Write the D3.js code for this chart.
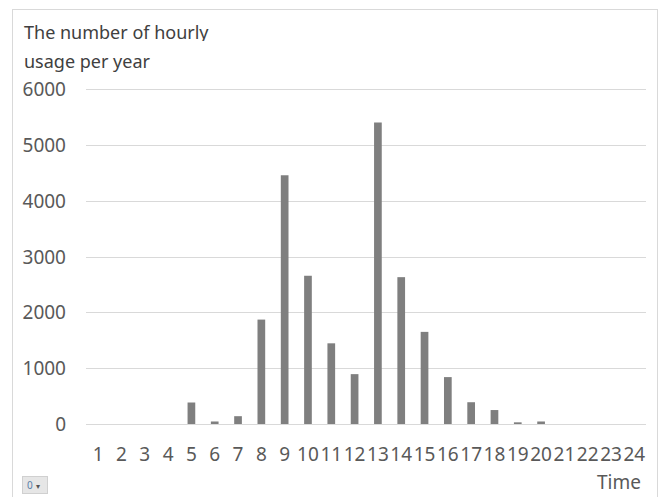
<!DOCTYPE html>
<html>
<head>
<meta charset="utf-8">
<script src="https://cdn.jsdelivr.net/npm/d3@7/dist/d3.min.js"></script>
<style>
  html, body { margin: 0; padding: 0; background: #fff; }
  svg { display: block; }
</style>
</head>
<body>
<script>
const hours = ["1","2","3","4","5","6","7","8","9","10","11","12","13","14","15","16","17","18","19","20","21","22","23","24"];
const usage = [0, 0, 0, 0, 385, 45, 140, 1870, 4455, 2655, 1445, 893, 5400, 2630, 1650, 840, 390, 250, 30, 45, 0, 0, 0, 0];
const yTicks = [0, 1000, 2000, 3000, 4000, 5000, 6000];
const titleLines = ["The number of hourly", "usage per year"];
const xTitle = "Time";

const W = 659, H = 497;
const font = "'Noto Sans', 'Noto Sans CJK JP', sans-serif";
const svg = d3.select("body").append("svg").attr("width", W).attr("height", H);

// chart area border
svg.append("rect").attr("x", 12.5).attr("y", 9.5).attr("width", 645).attr("height", 500)
  .attr("fill", "#fff").attr("stroke", "#d9d9d9").attr("stroke-width", 1);

const x = d3.scaleBand().domain(hours).range([86.5, 646]).paddingInner(0.67).paddingOuter(0.335);
const y = d3.scaleLinear().domain([0, 6000]).range([424, 89]);

// gridlines
const gy = svg.append("g");
gy.call(d3.axisLeft(y).tickValues(yTicks).tickSize(0).tickPadding(0).tickFormat(() => ""));
gy.select(".domain").remove();
gy.selectAll(".tick line").remove();
gy.selectAll(".tick").append("line")
  .attr("x1", 86).attr("x2", 646)
  .attr("stroke", "#d9d9d9").attr("stroke-width", 1)
  .attr("shape-rendering", "crispEdges");

// y labels via axis
const yAxis = svg.append("g").attr("transform", "translate(66,0)")
  .call(d3.axisLeft(y).tickValues(yTicks).tickSize(0).tickPadding(0).tickFormat(d3.format("d")));
yAxis.select(".domain").remove();
yAxis.selectAll("text").attr("font-family", font).attr("font-size", 19).attr("fill", "#595959")
  .attr("dy", "0.35em").attr("x", 0);

// bars
svg.append("g").selectAll("rect").data(usage).join("rect")
  .attr("x", (d, i) => x(hours[i]))
  .attr("width", x.bandwidth())
  .attr("y", d => y(d))
  .attr("height", d => y(0) - y(d))
  .attr("fill", "#7f7f7f");

// x labels
const xAxis = svg.append("g").attr("transform", "translate(0,424)")
  .call(d3.axisBottom(x).tickSize(0).tickPadding(0));
xAxis.select(".domain").remove();
xAxis.selectAll("text").attr("font-family", font).attr("font-size", 19).attr("fill", "#595959")
  .attr("dy", null).attr("y", 37);

// title (first line clipped at bottom as in the reference)
svg.append("clipPath").attr("id", "t1clip").append("rect")
  .attr("x", 0).attr("y", 0).attr("width", 400).attr("height", 41);
svg.append("text").attr("x", 24).attr("y", 39).attr("clip-path", "url(#t1clip)")
  .attr("font-family", font).attr("font-size", 18).attr("fill", "#404040").text(titleLines[0]);
svg.append("text").attr("x", 24).attr("y", 68)
  .attr("font-family", font).attr("font-size", 18).attr("fill", "#404040").text(titleLines[1]);

// x axis title
svg.append("text").attr("x", 641).attr("y", 489).attr("text-anchor", "end")
  .attr("font-family", font).attr("font-size", 19).attr("fill", "#595959").text(xTitle);

// small filter button
const btn = svg.append("g");
btn.append("rect").attr("x", 22.5).attr("y", 476.5).attr("width", 25).attr("height", 17)
  .attr("fill", "#e6e6e6").attr("stroke", "#d0d0d0");
btn.append("text").attr("x", 27).attr("y", 489).attr("font-family", font).attr("font-size", 10)
  .attr("fill", "#5b7fa8").text("0");
btn.append("text").attr("x", 36).attr("y", 488.5).attr("font-family", font).attr("font-size", 8)
  .attr("fill", "#555").text("▾");
</script>
</body>
</html>
